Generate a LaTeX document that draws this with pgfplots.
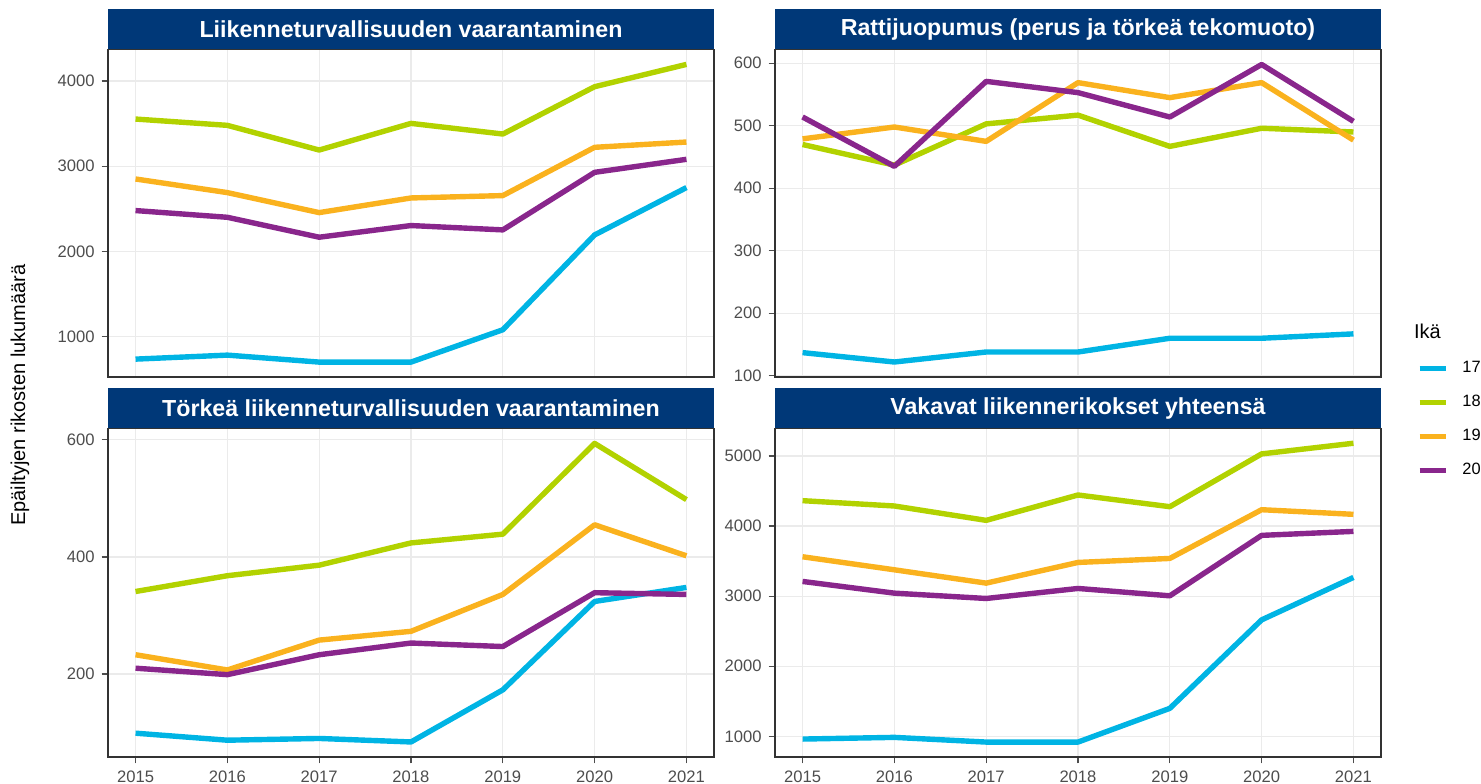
\documentclass[border=0pt]{standalone}
\usepackage{pgfplots}
\pgfplotsset{compat=1.18}
\usepackage{pgfplotstable}
\usepackage{fontspec}
\setmainfont{Liberation Sans}
\definecolor{c17}{RGB}{0,180,228}
\definecolor{c18}{RGB}{178,210,0}
\definecolor{c19}{RGB}{250,178,30}
\definecolor{c20}{RGB}{137,38,140}
\definecolor{stripc}{RGB}{0,56,120}
\definecolor{gridc}{RGB}{235,235,235}
\definecolor{framec}{RGB}{51,51,51}
\definecolor{tickc}{RGB}{77,77,77}

\pgfplotstableread{
year a17 a18 a19 a20
2015 734 3554 2850 2479
2016 781 3480 2690 2400
2017 699 3190 2455 2166
2018 699 3503 2627 2303
2019 1079 3378 2655 2252
2020 2193 3934 3222 2928
2021 2749 4196 3284 3081
}\tabTL
\pgfplotstableread{
year a17 a18 a19 a20
2015 137 470 479 514
2016 122 437 498 435
2017 138 503 475 571
2018 138 517 569 553
2019 160 467 545 514
2020 160 496 569 598
2021 167 490 477 507
}\tabTR
\pgfplotstableread{
year a17 a18 a19 a20
2015 99 341 233 210
2016 87 368 207 199
2017 90 386 258 233
2018 84 424 273 253
2019 173 439 336 247
2020 324 594 455 339
2021 348 498 402 336
}\tabBL
\pgfplotstableread{
year a17 a18 a19 a20
2015 962 4362 3562 3210
2016 986 4286 3376 3043
2017 919 4081 3186 2967
2018 919 4443 3481 3110
2019 1400 4276 3538 3005
2020 2662 5029 4233 3867
2021 3267 5181 4167 3924
}\tabBR

\pgfplotsset{
 panel/.style={
  scale only axis, anchor=south west, width=303pt,
  xmin=2014.7, xmax=2021.3, xtick={2015,...,2021},
  axis line style={framec, line width=0.6pt},
  grid=major, major grid style={gridc, line width=0.6pt},
  tick align=outside, major tick length=3.2pt,
  tick style={tickc, line width=0.6pt},
  xtick pos=left, ytick pos=left,
  ticklabel style={font=\fontsize{8.3}{10}\selectfont, text=tickc},
  /pgf/number format/assume math mode=true,
  /pgf/number format/1000 sep={},
  every axis title/.style={at={(0.5,1)}, anchor=south, fill=stripc, text=white,
    inner sep=0pt, outer sep=0pt, minimum height=20pt, minimum width=303pt,
    font=\bfseries\fontsize{11.6}{13}\selectfont},
  every axis plot/.append style={line width=2.7pt, line join=round, no markers},
 },
 toprow/.style={xticklabels={}, xtick style={draw=none}},
}

\begin{document}
\begin{tikzpicture}
% top left
\begin{axis}[panel, toprow, at={(54pt,203pt)}, height=163.75pt,
  ymin=524, ymax=4371, ytick={1000,2000,3000,4000},
  title={Liikenneturvallisuuden vaarantaminen}]
\addplot[c17] table[x=year,y=a17]{\tabTL};
\addplot[c18] table[x=year,y=a18]{\tabTL};
\addplot[c19] table[x=year,y=a19]{\tabTL};
\addplot[c20] table[x=year,y=a20]{\tabTL};
\end{axis}
% top right
\begin{axis}[panel, toprow, at={(387.5pt,203pt)}, height=163.75pt,
  ymin=98, ymax=622, ytick={100,200,300,400,500,600},
  title={Rattijuopumus (perus ja törkeä tekomuoto)},
  legend style={at={(axis description cs:1.0594,0.0775)}, anchor=north west,
    draw=none, fill=none, inner sep=0pt, outer sep=0pt,
    font=\fontsize{8.2}{10}\selectfont, row sep=0pt, column sep=7pt,
    nodes={inner sep=0pt, minimum height=17pt}},
  legend cell align=left,
  legend image code/.code={\draw[#1] (0pt,0pt) -- (13pt,0pt);}]
\addplot[c17] table[x=year,y=a17]{\tabTR};
\addplot[c18] table[x=year,y=a18]{\tabTR};
\addplot[c19] table[x=year,y=a19]{\tabTR};
\addplot[c20] table[x=year,y=a20]{\tabTR};
\legend{17,18,19,20}
\end{axis}
% bottom left
\begin{axis}[panel, at={(54pt,13pt)}, height=164.35pt,
  ymin=58.3, ymax=619.8, ytick={200,400,600},
  title={Törkeä liikenneturvallisuuden vaarantaminen}]
\addplot[c17] table[x=year,y=a17]{\tabBL};
\addplot[c18] table[x=year,y=a18]{\tabBL};
\addplot[c19] table[x=year,y=a19]{\tabBL};
\addplot[c20] table[x=year,y=a20]{\tabBL};
\end{axis}
% bottom right
\begin{axis}[panel, at={(387.5pt,13pt)}, height=164.35pt,
  ymin=706, ymax=5394, ytick={1000,2000,3000,4000,5000},
  title={Vakavat liikennerikokset yhteensä}]
\addplot[c17] table[x=year,y=a17]{\tabBR};
\addplot[c18] table[x=year,y=a18]{\tabBR};
\addplot[c19] table[x=year,y=a19]{\tabBR};
\addplot[c20] table[x=year,y=a20]{\tabBR};
\end{axis}
\node[anchor=west, font=\fontsize{10}{12}\selectfont, inner sep=0pt] at (706.85pt,225.65pt) {Ikä};
\node[rotate=90, font=\fontsize{10}{12}\selectfont, inner sep=0pt] at (10pt,194pt) {Epäiltyjen rikosten lukumäärä};
\pgfresetboundingbox
\useasboundingbox (0,0) rectangle (740.5pt,391.5pt);
\end{tikzpicture}
\end{document}
